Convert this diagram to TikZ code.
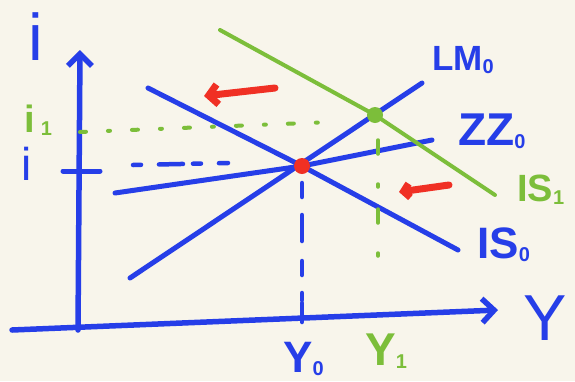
\documentclass[tikz,border=0pt]{standalone}
\usepackage{fontspec}
\setmainfont{Liberation Sans}
\usetikzlibrary{arrows.meta}

\definecolor{penblue}{RGB}{38,62,232}
\definecolor{pengreen}{RGB}{124,190,58}
\definecolor{penred}{RGB}{240,48,36}
\definecolor{paper}{RGB}{248,245,235}

\newcommand\lowidx[1]{\raisebox{-3pt}{\fontsize{20}{20}\selectfont\bfseries #1}}

\begin{document}
\begin{tikzpicture}[x=1pt, y=-1pt, line cap=round, line join=round,
    axis/.style={penblue, line width=5.5pt, -{Straight Barb[length=12pt, width=24pt]}},
    bluecurve/.style={penblue, line width=5pt},
    greencurve/.style={pengreen, line width=4pt},
    bluedash/.style={penblue, line width=4.5pt, dash pattern=on 8pt off 18pt on 24pt off 10pt},
    greendash/.style={pengreen, line width=4pt, dash pattern=on 6pt off 22pt on 2pt off 22pt},
    shiftarrow/.style={penred, line width=7pt, -{Straight Barb[length=9pt, width=20pt]}},
    lbl/.style={inner sep=0pt, anchor=base west}]
    \fill[paper] (0,0) rectangle (575,381);
    \useasboundingbox (0,0) rectangle (575,381);

    % Define the points of the axes
    \coordinate (O) at (78,330);
    \coordinate (Itop) at (80,50);
    \coordinate (Yleft) at (12,330);
    \coordinate (Yright) at (498,310);

    % Define the points of the curves
    \coordinate (E0) at (302,166);
    \coordinate (E1) at (375,115);
    \coordinate (IS0a) at (148,88);
    \coordinate (IS0b) at (458,250);
    \coordinate (LMa) at (130,278);
    \coordinate (LMb) at (422,83);
    \coordinate (ZZa) at (115,193);
    \coordinate (ZZb) at (432,140);
    \coordinate (IS1a) at (220,30);
    \coordinate (IS1b) at (495,195);

    % Draw the axes and the ticks
    \draw[axis] (O) -- (Itop);
    \draw[axis] (Yleft) -- (Yright);
    \coordinate (ti1) at (63,171);
    \coordinate (ti2) at (100,171);
    \coordinate (ty1) at (302,303);
    \coordinate (ty2) at (302,322);
    \draw[penblue, line width=5pt] (ti1) -- (ti2);
    \draw[penblue, line width=4.5pt] (ty1) -- (ty2);

    % Draw the curves
    \draw[bluecurve] (IS0a) -- (E0) -- (IS0b);
    \draw[bluecurve] (LMa) -- (LMb);
    \draw[bluecurve] (ZZa) -- (E0) -- (ZZb);
    \draw[greencurve] (IS1a) -- (E1) -- (IS1b);

    % Draw the dashed guide lines
    \coordinate (ia) at (133,165);
    \coordinate (ib) at (228,163);
    \coordinate (y0a) at (302,183);
    \coordinate (y0b) at (302,300);
    \coordinate (i1a) at (80,132);
    \coordinate (i1b) at (332,122);
    \coordinate (y1a) at (378,140);
    \coordinate (y1b) at (378,272);
    \draw[bluedash] (ia) -- (ib);
    \draw[penblue, line width=4.5pt, dash pattern=on 14pt off 18pt on 26pt off 20pt] (y0a) -- (y0b);
    \draw[greendash] (i1a) -- (i1b);
    \draw[pengreen, line width=3.5pt, dash pattern=on 14pt off 30pt on 3pt off 22pt] (y1a) -- (y1b);

    % Equilibrium points
    \fill[penred] (E0) circle (8);
    \fill[pengreen] (E1) circle (8);

    % Red shift arrows
    \coordinate (s1a) at (275,88);
    \coordinate (s1b) at (204,96);
    \coordinate (s2a) at (449,185);
    \coordinate (s2b) at (399,192);
    \draw[shiftarrow] (s1a) -- (s1b);
    \draw[shiftarrow, -{Straight Barb[length=6pt, width=14pt]}] (s2a) -- (s2b);

    % Place the labels
    \node (ilab) at (36,37) [inner sep=0pt, text=penblue, font=\fontsize{66}{66}\selectfont] {i};
    \node (i0lab) at (27,164) [inner sep=0pt, text=penblue, font=\fontsize{46}{46}\selectfont] {i};
    \node (i1lab) at (24,132) [lbl, text=pengreen, font=\fontsize{38}{38}\selectfont\bfseries] {i\kern6pt\lowidx{1}};
    \node (LMlab) at (432,70) [lbl, text=penblue, font=\fontsize{35}{35}\selectfont\bfseries] {LM\lowidx{0}};
    \node (ZZlab) at (458,145) [lbl, text=penblue, font=\fontsize{46}{46}\selectfont\bfseries] {ZZ\lowidx{0}};
    \node (IS1lab) at (517,201) [lbl, text=pengreen, font=\fontsize{38}{38}\selectfont\bfseries] {IS\lowidx{1}};
    \node (IS0lab) at (477,258) [lbl, text=penblue, font=\fontsize{44}{44}\selectfont\bfseries] {IS\lowidx{0}};
    \node (Ylab) at (545,318) [inner sep=0pt, text=penblue, font=\fontsize{65}{65}\selectfont] {Y};
    \node (Y0lab) at (283,372) [lbl, text=penblue, font=\fontsize{44}{44}\selectfont\bfseries] {Y\lowidx{0}};
    \node (Y1lab) at (365,365) [lbl, text=pengreen, font=\fontsize{46}{46}\selectfont\bfseries] {Y\lowidx{1}};
\end{tikzpicture}
\end{document}
